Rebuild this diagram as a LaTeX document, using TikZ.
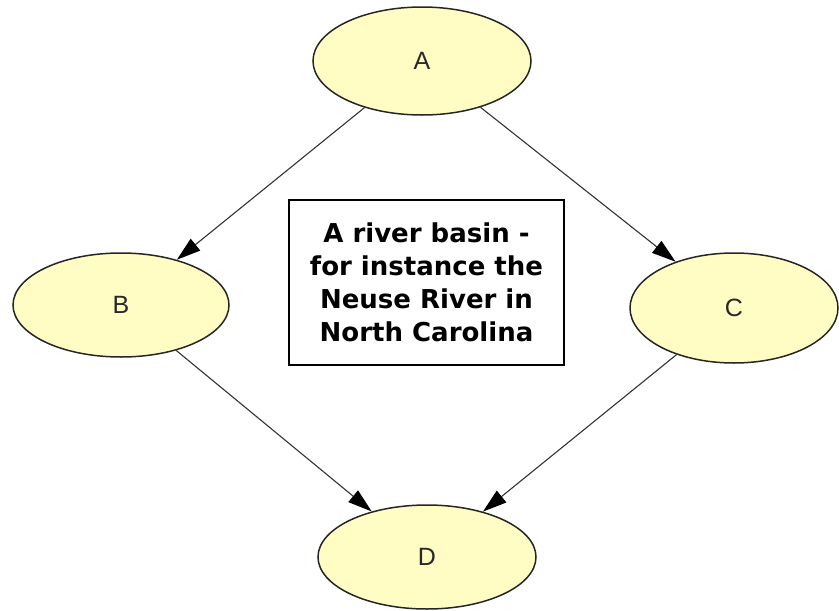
\documentclass[tikz,border=0pt]{standalone}
\usepackage{fontspec}
\setmainfont{Liberation Sans}
\newfontfamily\boxfont{DejaVu Sans}
\usetikzlibrary{shapes.geometric,arrows.meta}
\definecolor{nodefill}{RGB}{255,253,196}
\definecolor{lettergray}{RGB}{40,40,40}
\begin{document}
\begin{tikzpicture}[x=1pt,y=-1pt,
  ell/.style={ellipse,draw=black!85,line width=1.5pt,fill=nodefill,inner sep=0pt,
    font=\fontsize{25}{28}\selectfont,text=lettergray},
  conn/.style={draw=black!80,line width=1.1pt,-{Triangle[length=24pt,width=15pt,color=black]}}]
\useasboundingbox (0,0) rectangle (839,611);
\node[ell,minimum width=218pt,minimum height=108pt] (A) at (422,61) {A};
\node[ell,minimum width=216pt,minimum height=104pt] (B) at (121,305) {B};
\node[ell,minimum width=208pt,minimum height=110pt] (C) at (734,308) {C};
\node[ell,minimum width=218pt,minimum height=104pt] (D) at (427,557) {D};
\node[draw=black,line width=1.5pt,minimum width=275pt,minimum height=165pt,inner sep=0pt,
  align=center,font=\boxfont\bfseries\fontsize{26}{33}\selectfont] (T) at (426.5,282.5)
  {A river basin -\\for instance the\\Neuse River in\\North Carolina};
\draw[conn] (A) -- (B);
\draw[conn] (A) -- (C);
\draw[conn] (B) -- (D);
\draw[conn] (C) -- (D);
\end{tikzpicture}
\end{document}
